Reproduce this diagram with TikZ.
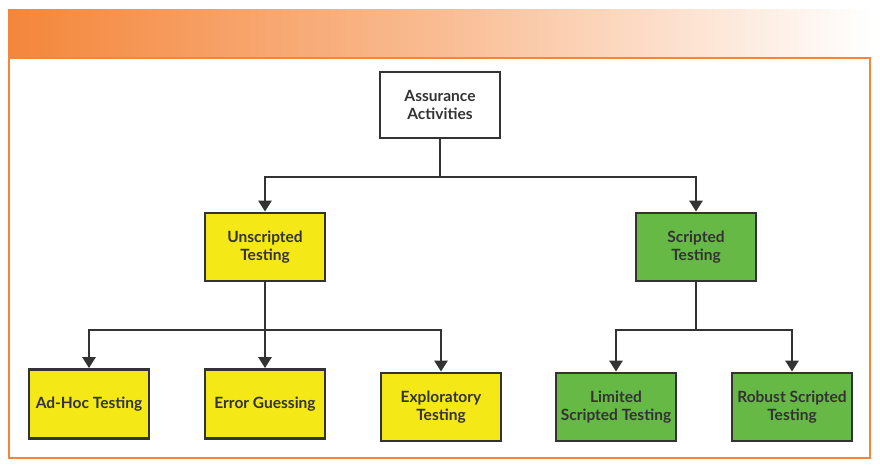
\documentclass[tikz,border=0pt]{standalone}
\usepackage{fontspec}
\setmainfont{Lato}
\usetikzlibrary{arrows.meta}
\definecolor{orng}{HTML}{F4863A}
\definecolor{ink}{HTML}{333333}
\definecolor{yel}{HTML}{F4E817}
\definecolor{grn}{HTML}{66B945}
\tikzset{
  box/.style={draw=ink, line width=2.8pt, minimum width=120pt, minimum height=66pt, align=center, font=\fontsize{15.5}{18.5}\selectfont\bfseries, text=ink, inner sep=2pt},
  ybox/.style={box, fill=yel},
  gbox/.style={box, fill=grn},
  wbox/.style={box, fill=white},
  conn/.style={draw=ink, line width=2.6pt},
  arr/.style={conn, -{Triangle[width=13pt,length=11pt]}}
}
\begin{document}
\begin{tikzpicture}[x=1pt,y=-1pt]
\useasboundingbox (0,0) rectangle (880,468);
\fill[white] (0,0) rectangle (880,468);
\shade[left color=orng, right color=white, middle color=orng!55] (8,10) rectangle (872,58);
\draw[orng, line width=1.5pt] (9,58) rectangle (870,458);

\node[wbox, minimum height=66pt] (aa) at (440,105) {Assurance\\Activities};
\node[ybox, minimum height=68pt] (ut) at (265,247) {Unscripted\\Testing};
\node[gbox, minimum height=68pt] (st) at (696,247) {Scripted\\Testing};
\node[ybox, minimum height=69pt] (ah) at (89,404) {Ad-Hoc Testing};
\node[ybox, minimum height=69pt] (eg) at (265,404) {Error Guessing};
\node[ybox, minimum height=68pt] (ex) at (441,407) {Exploratory\\Testing};
\node[gbox, minimum height=68pt] (ls) at (616,407) {Limited\\Scripted Testing};
\node[gbox, minimum height=68pt] (rs) at (792,407) {Robust Scripted\\Testing};

\coordinate (j1) at (440,177);
\coordinate (j2) at (265,330);
\coordinate (j3) at (696,330);

\draw[conn] (aa.south) -- (j1);
\draw[arr] (j1) -| (ut.north);
\draw[arr] (j1) -| (st.north);
\draw[conn] (ut.south) -- (j2);
\draw[arr] (j2) -| (ah.north);
\draw[arr] (j2) -- (eg.north);
\draw[arr] (j2) -| (ex.north);
\draw[conn] (st.south) -- (j3);
\draw[arr] (j3) -| (ls.north);
\draw[arr] (j3) -| (rs.north);
\end{tikzpicture}
\end{document}
